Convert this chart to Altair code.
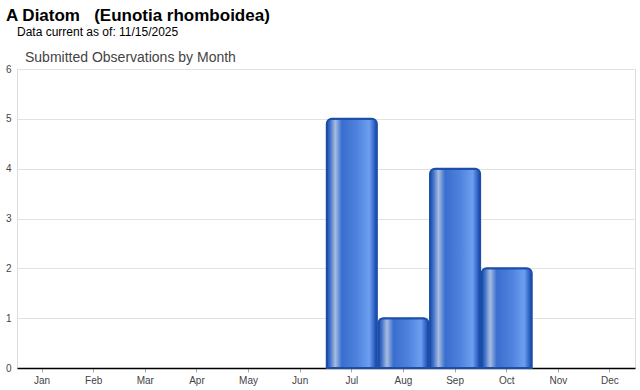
import altair as alt
import pandas as pd

months = ["Jan", "Feb", "Mar", "Apr", "May", "Jun", "Jul", "Aug", "Sep", "Oct", "Nov", "Dec"]
counts = [0, 0, 0, 0, 0, 0, 5, 1, 4, 2, 0, 0]

title_main = "A Diatom\u00a0\u00a0\u00a0(Eunotia rhomboidea)"
title_sub = "Data current as of: 11/15/2025"
chart_title = "Submitted Observations by Month"

df = pd.DataFrame({"month": months, "count": counts})

FONT = "Liberation Sans"

grad = alt.LinearGradient(
    gradient="linear", x1=0, x2=1, y1=0, y2=0,
    stops=[
        alt.GradientStop(color="#1d4fa6", offset=0.0),
        alt.GradientStop(color="#3c6cc8", offset=0.06),
        alt.GradientStop(color="#a7bde0", offset=0.17),
        alt.GradientStop(color="#3a6ecf", offset=0.30),
        alt.GradientStop(color="#4f82dc", offset=0.60),
        alt.GradientStop(color="#6c9ef0", offset=0.85),
        alt.GradientStop(color="#2b5cc0", offset=0.96),
        alt.GradientStop(color="#1a4aa0", offset=1.0),
    ],
)

bars = alt.Chart(df).transform_filter(alt.datum.count > 0).mark_bar(
    color=grad, stroke="#1b4ea8", strokeWidth=2,
    cornerRadiusTopLeft=5, cornerRadiusTopRight=5
).encode(
    x=alt.X("month:N", sort=months,
            scale=alt.Scale(domain=months, paddingInner=0.03, paddingOuter=0.0),
            axis=alt.Axis(title=None, labelAngle=0, labelFont=FONT, labelFontSize=10,
                          labelColor="#444", domainColor="#000", domainWidth=1.5,
                          tickColor="#aaa", tickSize=4, labelPadding=3, grid=False)),
    y=alt.Y("count:Q", scale=alt.Scale(domain=[0, 6]),
            axis=alt.Axis(title=None, values=[0, 1, 2, 3, 4, 5, 6], labelFont=FONT,
                          labelFontSize=10, labelColor="#444", domain=False, ticks=False,
                          labelPadding=6, gridColor="#e2e2e2", format="d")),
)

t1 = alt.Chart(pd.DataFrame({"t": [title_main]})).mark_text(
    align="left", baseline="alphabetic", font=FONT, fontSize=17, fontWeight="bold", color="#000"
).encode(text="t:N", x=alt.value(-11), y=alt.value(-48))

t2 = alt.Chart(pd.DataFrame({"t": [title_sub]})).mark_text(
    align="left", baseline="alphabetic", font=FONT, fontSize=12, color="#000"
).encode(text="t:N", x=alt.value(0), y=alt.value(-33))

t3 = alt.Chart(pd.DataFrame({"t": [chart_title]})).mark_text(
    align="left", baseline="alphabetic", font=FONT, fontSize=14, color="#444"
).encode(text="t:N", x=alt.value(8), y=alt.value(-7))

chart = alt.layer(bars, t1, t2, t3).properties(
    width=618, height=299,
    autosize=alt.AutoSizeParams(type="none"),
    padding={"left": 17, "top": 69, "right": 5, "bottom": 22},
).configure_view(stroke=None).configure(background="white")

chart.save("out.html", embed_options={"renderer": "svg", "actions": False})
